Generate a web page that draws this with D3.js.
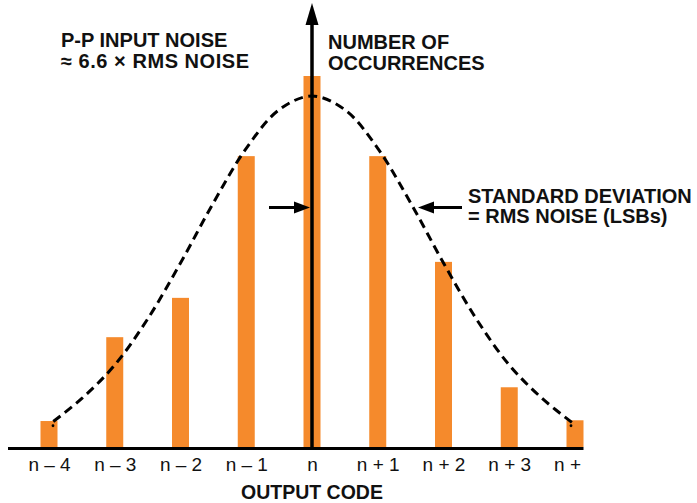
<!DOCTYPE html>
<html>
<head>
<meta charset="utf-8">
<script src="https://cdn.jsdelivr.net/npm/d3@7"></script>
<style>
  html, body { margin: 0; padding: 0; background: #fff; }
  svg { display: block; }
  text { font-family: "Liberation Sans", Arial, Helvetica, sans-serif; fill: #111; }
</style>
</head>
<body>
<svg id="chart" width="697" height="503"></svg>
<script>
// ---- data ----
const categories = ["n – 4", "n – 3", "n – 2", "n – 1", "n", "n + 1", "n + 2", "n + 3", "n + 4"];
const occurrences = [7.0, 29.6, 40.2, 78.4, 100, 78.4, 49.9, 16.1, 7.2];
const curveOffsets = [-4, -3.5, -3, -2.5, -2, -1.5, -1, -0.5, 0, 0.5, 1, 1.5, 2, 2.5, 3, 3.5, 4];
const curveValues = [6, 13.1, 22.1, 34.5, 49.6, 65.8, 80.5, 90.9, 94.6, 90.9, 80.5, 65.8, 49.6, 34.5, 22.1, 13.1, 6];
const xAxisTitle = "OUTPUT CODE";
const yAxisTitle = ["NUMBER OF", "OCCURRENCES"];
const noteLeft = ["P-P INPUT NOISE", "≈ 6.6 × RMS NOISE"];
const noteRight = ["STANDARD DEVIATION", "= RMS NOISE (LSBs)"];

// ---- layout ----
const svg = d3.select("#chart");
const baseY = 447;
const x = d3.scalePoint().domain(categories).range([49, 575]);
const xi = d3.scaleLinear().domain([-4, 4]).range([49, 575]);
const y = d3.scaleLinear().domain([0, 100]).range([baseY, 76]);
const barW = 17;
const orange = "#f58a2c";

// bars
svg.append("g").selectAll("rect")
  .data(categories)
  .join("rect")
  .attr("x", d => x(d) - barW / 2)
  .attr("y", (d, i) => y(occurrences[i]))
  .attr("width", barW)
  .attr("height", (d, i) => baseY - y(occurrences[i]))
  .attr("fill", orange);

// dashed gaussian curve
const line = d3.line()
  .x((d, i) => xi(curveOffsets[i]))
  .y(d => y(d))
  .curve(d3.curveCatmullRom.alpha(0.5));
svg.append("path")
  .datum(curveValues)
  .attr("d", line)
  .attr("fill", "none")
  .attr("stroke", "#000")
  .attr("stroke-width", 3)
  .attr("stroke-dasharray", "9,5.5")
  .attr("stroke-dashoffset", 9);
// end dots
svg.append("g").selectAll("circle")
  .data([0, curveValues.length - 1])
  .join("circle")
  .attr("cx", i => xi(curveOffsets[i]) - Math.sign(curveOffsets[i]) * 4)
  .attr("cy", i => y(curveValues[i]) + 1)
  .attr("r", 1.4)
  .attr("fill", "#000");

// x axis labels (clipped on the right like the reference)
svg.append("defs").append("clipPath").attr("id", "clipR")
  .append("rect").attr("x", 0).attr("y", 0).attr("width", 586).attr("height", 503);
const axis = d3.axisBottom(x).tickSize(0).tickPadding(0);
const gAxis = svg.append("g")
  .attr("transform", `translate(0,${baseY})`)
  .attr("clip-path", "url(#clipR)")
  .call(axis);
gAxis.select(".domain").remove();
gAxis.selectAll("text")
  .attr("dy", null)
  .attr("y", 23.5)
  .style("font-family", '"Liberation Sans", Arial, sans-serif')
  .style("font-size", "19px")
  .attr("fill", "#111");

// x axis line
svg.append("line")
  .attr("x1", x(categories[0]) - 41).attr("x2", x(categories[categories.length - 1]) + 8.5)
  .attr("y1", baseY + 1.5).attr("y2", baseY + 1.5)
  .attr("stroke", "#000").attr("stroke-width", 3);

// vertical axis arrow
const cx = x("n");
svg.append("line")
  .attr("x1", cx).attr("x2", cx)
  .attr("y1", baseY + 2).attr("y2", 20)
  .attr("stroke", "#000").attr("stroke-width", 3.5);
svg.append("path")
  .attr("d", `M${cx},3 L${cx - 6.5},25 L${cx + 6.5},25 Z`)
  .attr("fill", "#000");

// std dev arrows
function arrow(x0, x1, yy) {
  const dir = Math.sign(x1 - x0);
  const headL = 16, headH = 6;
  svg.append("line")
    .attr("x1", x0).attr("x2", x1 - dir * headL + dir * 2)
    .attr("y1", yy).attr("y2", yy)
    .attr("stroke", "#000").attr("stroke-width", 3);
  svg.append("path")
    .attr("d", `M${x1},${yy} L${x1 - dir * headL},${yy - headH} L${x1 - dir * headL},${yy + headH} Z`)
    .attr("fill", "#000");
}
arrow(269, cx - 2, 207.5);
arrow(462, 418, 207.5);

// texts
function block(lines, tx, ty, lh, widths) {
  lines.forEach((s, i) => {
    const t = svg.append("text")
      .attr("x", tx).attr("y", ty + i * lh)
      .style("font-size", "20px")
      .style("font-weight", "bold")
      .text(s);
    if (widths && widths[i]) t.attr("textLength", widths[i]).attr("lengthAdjust", "spacing");
  });
}
block(noteLeft, 61, 47, 20.5, [null, 188]);
block(yAxisTitle, 328, 48.5, 21);
block(noteRight, 468, 203, 20);

svg.append("text")
  .attr("x", cx).attr("y", 499)
  .attr("text-anchor", "middle")
  .style("font-size", "19.5px")
  .style("font-weight", "bold")
  .text(xAxisTitle);
</script>
</body>
</html>
